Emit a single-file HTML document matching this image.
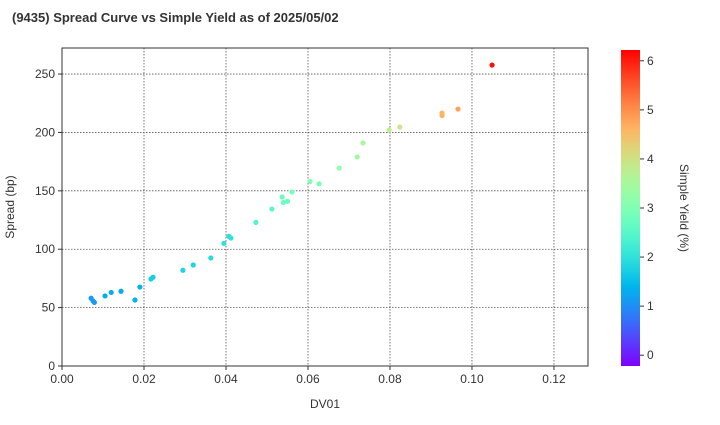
<!DOCTYPE html>
<html><head><meta charset="utf-8"><style>
body{margin:0;background:#fff;font-family:"Liberation Sans",Arial,sans-serif}
svg text{font-family:"Liberation Sans",Arial,sans-serif;fill:#333}
</style></head><body>
<svg id="c" width="720" height="420">
<defs><linearGradient id="cb" x1="0" y1="1" x2="0" y2="0"></linearGradient></defs>
<text x="12" y="22" font-size="13" font-weight="bold">(9435)   Spread Curve vs Simple Yield as of 2025/05/02</text>
<g id="grid"></g><g id="pts"></g><g id="axes"></g>
<text x="325" y="408" font-size="12" text-anchor="middle">DV01</text>
<text x="0" y="0" font-size="12" text-anchor="middle" transform="translate(14,207) rotate(-90)">Spread (bp)</text>
<rect x="621" y="50" width="19" height="316" fill="url(#cb)"/>
<g id="cbt"></g>
<text x="0" y="0" font-size="12" text-anchor="middle" transform="translate(680,208) rotate(90)">Simple Yield (%)</text>
</svg>
<script>
const dv01=[.0071,.0076,.0079,.0105,.012,.0144,.0178,.019,.0217,.0222,.0295,.032,.0363,.0395,.0407,.0412,.0473,.0512,.0537,.054,.055,.0561,.0605,.0627,.0676,.072,.0734,.0798,.0824,.0927,.0927,.0966,.1049];
const spread=[58,55.6,54.5,60,63,64,56.5,67.6,74.5,76,82,86.5,92.5,105,111,109.6,123,134.4,144.7,140,141,149,158,156,169.5,179,191,202,204.6,216.6,214.5,220,257.7];
const yieldv=[1.1,1.1,1.1,1.3,1.3,1.3,1.4,1.4,1.7,1.7,1.8,1.8,1.9,2.0,2.0,2.0,2.4,2.5,2.7,2.7,2.7,2.9,3.0,2.9,3.3,3.4,3.5,3.8,3.9,4.6,4.6,4.8,6.1];
const xTicks=[0,0.02,0.04,0.06,0.08,0.10,0.12];
const yTicks=[0,50,100,150,200,250];
const cTicks=[0,1,2,3,4,5,6];
const NS="http://www.w3.org/2000/svg";
const L=62,R=588,T=48,B=366,xMax=0.1283,yMax=272.3,cMin=-0.22,cMax=6.22;
const xs=v=>L+v/xMax*(R-L), ys=v=>B-v/yMax*(B-T), cs=v=>366-(v-cMin)/(cMax-cMin)*316;
function rainbow(t){const c=x=>Math.max(0,Math.min(1,x));
 return `rgb(${Math.round(255*c(Math.abs(2*t-0.5)))},${Math.round(255*c(Math.sin(Math.PI*t)))},${Math.round(255*c(Math.cos(Math.PI*t/2)))})`;}
const col=v=>rainbow((v-cMin)/(cMax-cMin));
function mk(tag,a,p){const e=document.createElementNS(NS,tag);for(const k in a)e.setAttribute(k,a[k]);p.appendChild(e);return e;}
const g=document.getElementById('grid'),ax=document.getElementById('axes'),pts=document.getElementById('pts'),cbt=document.getElementById('cbt');
xTicks.forEach(v=>{const x=xs(v);
 const l=mk('line',{x1:x,x2:x,y1:T,y2:B,stroke:'#555','stroke-dasharray':'1.5,1.5','stroke-width':0.8},g);
 
 
 const t=mk('text',{x:x,y:B+17,'font-size':12,'text-anchor':'middle'},ax);t.textContent=v.toFixed(2);
 
 
 mk('line',{x1:x,x2:x,y1:B,y2:B+4,stroke:'#333'},ax);});
yTicks.forEach(v=>{const y=ys(v);
 const l=mk('line',{x1:L,x2:R,y1:y,y2:y,stroke:'#555','stroke-dasharray':'1.5,1.5','stroke-width':0.8},g);
 
 
 const t=mk('text',{x:L-7,y:y+4,'font-size':12,'text-anchor':'end'},ax);t.textContent=v;
 
 
 mk('line',{x1:L-4,x2:L,y1:y,y2:y,stroke:'#333'},ax);});
const fr=mk('rect',{x:L,y:T,width:R-L,height:B-T,fill:'none',stroke:'#333','stroke-width':1},ax);


dv01.forEach((d,i)=>{const c=mk('circle',{cx:xs(d),cy:ys(spread[i]),r:2.6,fill:col(yieldv[i])},pts);
 
 });
const gr=document.getElementById('cb');
for(let i=0;i<=20;i++){mk('stop',{offset:i/20,'stop-color':rainbow(i/20)},gr);}
cTicks.forEach(v=>{const y=cs(v);mk('line',{x1:640,x2:644,y1:y,y2:y,stroke:'#333'},cbt);
 const t=mk('text',{x:647,y:y+4,'font-size':12},cbt);t.textContent=v;
 
 });
</script>
</body></html>
